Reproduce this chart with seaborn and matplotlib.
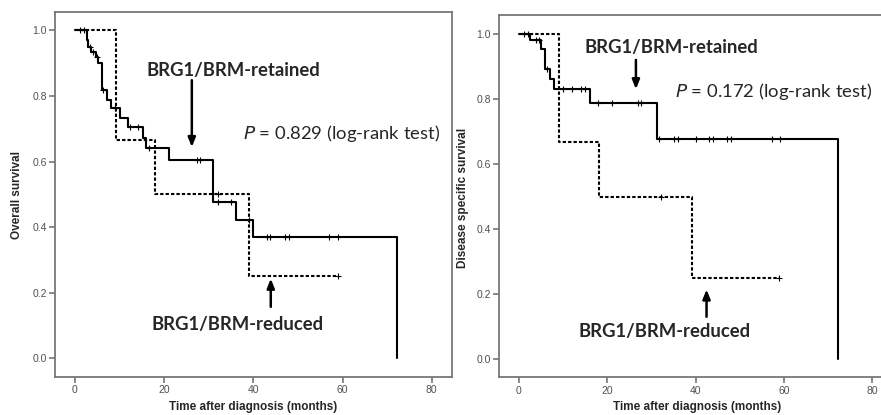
import numpy as np
import pandas as pd
import matplotlib
matplotlib.use("Agg")
import matplotlib.pyplot as plt
import seaborn as sns

# Kaplan-Meier curves (months, survival)
os_ret_t = [0, 2.6, 3.0, 3.7, 4.7, 5.2, 6.1, 7.1, 8.0, 10.0, 12.0, 15.2, 15.9, 21.1, 31.0, 36.0, 40.0, 72.1]
os_ret_s = [1.0, 0.97, 0.95, 0.935, 0.92, 0.90, 0.817, 0.789, 0.762, 0.733, 0.704, 0.672, 0.641, 0.606, 0.477, 0.422, 0.369, 0.0]
os_ret_cens = [1.1, 2.0, 3.4, 4.1, 5.0, 6.3, 9.0, 12.3, 14.2, 16.5, 27.3, 28.0, 32.1, 34.9, 39.1,
               43.0, 43.7, 47.1, 48.0, 57.0, 59.0]
os_red_t = [0, 9.2, 18.0, 39.1, 59.0]
os_red_s = [1.0, 0.667, 0.5, 0.25, 0.25]
os_red_cens = [32.1, 59.0]

dss_ret_t = [0, 2.6, 5.0, 6.0, 7.0, 8.0, 16.0, 31.2, 72.3]
dss_ret_s = [1.0, 0.98, 0.953, 0.892, 0.862, 0.830, 0.789, 0.676, 0.0]
dss_ret_cens = [1.2, 2.1, 3.8, 4.5, 6.3, 10.0, 12.1, 14.1, 15.0, 17.8, 21.1, 26.9, 27.6,
                31.8, 35.1, 36.1, 40.1, 43.1, 44.0, 47.2, 48.0, 57.3, 59.1]
dss_red_t = [0, 9.1, 18.1, 39.1, 59.0]
dss_red_s = [1.0, 0.667, 0.5, 0.25, 0.25]
dss_red_cens = [32.2, 59.0]

p_texts = ["0.829", "0.172"]
ylabels = ["Overall survival", "Disease specific survival"]
xlabel = "Time after diagnosis (months)"

sns.set_style("white")
plt.rcParams['font.family'] = ['Liberation Sans', 'DejaVu Sans']

fig = plt.figure(figsize=(8.81, 4.15), dpi=100)
ax1 = fig.add_axes([0.0624, 0.0923, 0.4503, 0.8788])
ax2 = fig.add_axes([0.5667, 0.0908, 0.4457, 0.873])

dash = (0, (1.6, 1.0))
gray = '#777777'


def step_at(t, times, surv):
    i = np.searchsorted(times, t, side='right') - 1
    return surv[i]


def km(ax, t, s, cens, ls):
    df = pd.DataFrame({'t': t, 's': s})
    sns.lineplot(data=df, x='t', y='s', drawstyle='steps-post', color='black',
                 linewidth=1.5, linestyle=ls, ax=ax, sort=False, estimator=None)
    cy = [step_at(c, t, s) for c in cens]
    sns.scatterplot(x=cens, y=cy, marker='+', s=22, color='black', linewidth=0.8, ax=ax, zorder=3)


km(ax1, os_ret_t, os_ret_s, os_ret_cens, '-')
km(ax1, os_red_t, os_red_s, os_red_cens, dash)
km(ax2, dss_ret_t, dss_ret_s, dss_ret_cens, '-')
km(ax2, dss_red_t, dss_red_s, dss_red_cens, dash)

ax1.set_xlim(-4.48, 84.46)
ax1.set_ylim(-0.056, 1.056)
ax2.set_xlim(-4.46, 84.5)
ax2.set_ylim(-0.055, 1.058)

bold_font = ['Lato', 'DejaVu Sans']
arrow = dict(arrowstyle='-|>,head_width=0.22,head_length=0.55', lw=1.8, color='black',
             shrinkA=0, shrinkB=0)

# annotations (label x, label y, arrow x, tail y, tip y, p x, p y, reduced x, reduced y, up x, tail, tip)
ann = [
    (35.5, 0.878, 26.2, 0.848, 0.644, 37.7, 0.687, 36.4, 0.104, 43.9, 0.157, 0.243),
    (34.5, 0.959, 26.5, 0.920, 0.830, 35.3, 0.823, 33.1, 0.085, 42.5, 0.131, 0.215),
]

for ax, a, p, yl in zip([ax1, ax2], ann, p_texts, ylabels):
    ax.set_xlabel('')
    ax.set_ylabel('')
    ax.set_xticks([0, 20, 40, 60, 80])
    ax.set_yticks([0, 0.2, 0.4, 0.6, 0.8, 1.0])
    ax.set_yticklabels([f"{v:.1f}" for v in [0, 0.2, 0.4, 0.6, 0.8, 1.0]])
    ax.tick_params(axis='both', direction='out', length=4, width=1.2, color=gray,
                   labelsize=7.5, labelcolor='#505050', pad=2, bottom=True, left=True)
    for sp in ax.spines.values():
        sp.set_color(gray)
        sp.set_linewidth(1.3)
    ax.text(a[0], a[1], "BRG1/BRM-retained", ha='center', va='center', fontsize=13.3,
            fontweight='bold', family=bold_font)
    ax.annotate('', xy=(a[2], a[4]), xytext=(a[2], a[3]), arrowprops=arrow)
    ax.text(a[5], a[6], f"$\\mathit{{P}}$ = {p} (log-rank test)", ha='left', va='center',
            fontsize=13.3, family=bold_font)
    ax.text(a[7], a[8], "BRG1/BRM-reduced", ha='center', va='center', fontsize=13.3,
            fontweight='bold', family=bold_font)
    ax.annotate('', xy=(a[9], a[11]), xytext=(a[9], a[10]), arrowprops=arrow)

ax1.text(-0.0958, 0.498, ylabels[0], transform=ax1.transAxes, rotation=90, ha='center',
         va='center', fontsize=8.5, fontweight='bold')
ax2.text(-0.0924, 0.496, ylabels[1], transform=ax2.transAxes, rotation=90, ha='center',
         va='center', fontsize=8.5, fontweight='bold')
ax1.text(0.499, -0.0995, xlabel, transform=ax1.transAxes, ha='center', va='bottom',
         fontsize=8.5, fontweight='bold')
ax2.text(0.503, -0.0985, xlabel, transform=ax2.transAxes, ha='center', va='bottom',
         fontsize=8.5, fontweight='bold')

fig.savefig("out.png", dpi=100)
